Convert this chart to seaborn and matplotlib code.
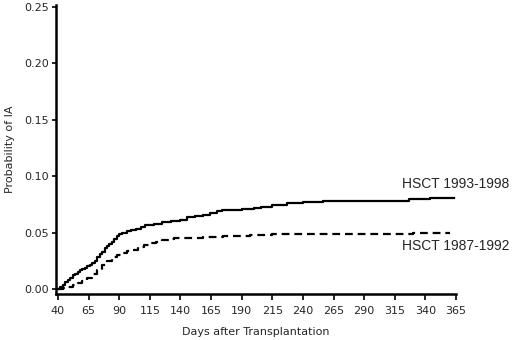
import matplotlib
matplotlib.use("Agg")
import matplotlib.pyplot as plt
import numpy as np
import pandas as pd
import seaborn as sns

# Cumulative incidence of IA (step curves)
days_9398 = [40, 42, 44, 46, 48, 50, 52, 54, 56, 58, 60, 62, 64, 66, 68, 70, 72,
             74, 76, 78, 80, 82, 84, 86, 88, 90, 92, 96, 100, 104, 108, 111, 118,
             125, 132, 140, 145, 152, 158, 164, 170, 174, 190, 200, 206, 215, 227,
             240, 256, 327, 344, 365]
prob_9398 = [0.000, 0.002, 0.004, 0.006, 0.008, 0.010, 0.012, 0.013, 0.015, 0.017,
             0.018, 0.019, 0.020, 0.021, 0.023, 0.025, 0.028, 0.031, 0.033, 0.036,
             0.038, 0.040, 0.042, 0.044, 0.047, 0.049, 0.050, 0.051, 0.052, 0.053,
             0.055, 0.057, 0.058, 0.059, 0.060, 0.061, 0.064, 0.065, 0.066, 0.067,
             0.069, 0.070, 0.071, 0.072, 0.073, 0.074, 0.076, 0.077, 0.078, 0.080,
             0.081, 0.081]

days_8792 = [40, 44, 48, 52, 56, 60, 64, 68, 72, 76, 80, 84, 88, 92, 96, 100, 105,
             110, 115, 120, 125, 130, 135, 148, 158, 175, 197, 215, 330, 360]
prob_8792 = [0.000, 0.001, 0.002, 0.0035, 0.005, 0.0075, 0.010, 0.013, 0.017,
             0.021, 0.025, 0.028, 0.030, 0.032, 0.034, 0.035, 0.037, 0.039, 0.041,
             0.042, 0.043, 0.044, 0.045, 0.045, 0.046, 0.047, 0.048, 0.049, 0.050,
             0.050]

x_ticks = [40, 65, 90, 115, 140, 165, 190, 215, 240, 265, 290, 315, 340, 365]
y_ticks = [0.00, 0.05, 0.10, 0.15, 0.20, 0.25]

df_new = pd.DataFrame({"day": days_9398, "prob": prob_9398})
df_old = pd.DataFrame({"day": days_8792, "prob": prob_8792})

sns.set_style("ticks")
plt.rcParams["font.family"] = ["DejaVu Sans"]

fig = plt.figure(figsize=(5.2, 3.4), dpi=100)
ax = fig.add_axes([0.108, 0.135, 0.769, 0.85])

sns.lineplot(data=df_new, x="day", y="prob", ax=ax, color="black", lw=1.6,
             estimator=None, sort=False, drawstyle="steps-post",
             marker="|", markevery=[len(df_new) - 1], markersize=7, mew=1.2)
sns.lineplot(data=df_old, x="day", y="prob", ax=ax, color="black", lw=1.6,
             estimator=None, sort=False, drawstyle="steps-post",
             dashes=False, linestyle=(0, (3.5, 2.2)))

lab_font = {"family": ["Liberation Sans", "DejaVu Sans"], "size": 10}
ax.text(df_new["day"].iloc[-1] - 44, df_new["prob"].iloc[-1] + 0.012,
        "HSCT 1993-1998", fontdict=lab_font, ha="left", va="center")
ax.text(df_new["day"].iloc[-1] - 44, df_old["prob"].iloc[-1] - 0.012,
        "HSCT 1987-1992", fontdict=lab_font, ha="left", va="center")

ax.set_xlim(38.5, 365)
ax.set_ylim(-0.0045, 0.2515)
ax.set_xticks(x_ticks)
ax.set_yticks(y_ticks)
ax.set_yticklabels([f"{v:.2f}" for v in y_ticks])
ax.set_xlabel("Days after Transplantation", fontsize=8, labelpad=8)
ax.set_ylabel("Probability of IA", fontsize=8, labelpad=7)
ax.tick_params(axis="both", labelsize=8, width=1.2, color="black")
ax.tick_params(axis="x", length=4.5, pad=4)
ax.tick_params(axis="y", length=3, pad=2)

for side in ["top", "right"]:
    ax.spines[side].set_visible(False)
for side in ["left", "bottom"]:
    ax.spines[side].set_linewidth(1.8)
    ax.spines[side].set_color("black")

fig.savefig("out.png", dpi=100)
plt.close(fig)
